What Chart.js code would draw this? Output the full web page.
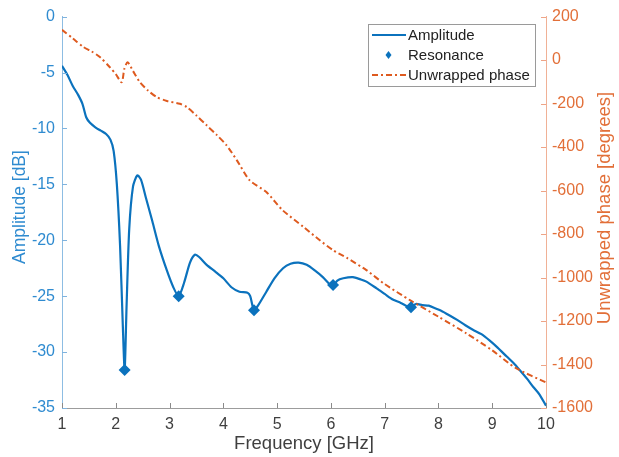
<!DOCTYPE html>
<html>
<head>
<meta charset="utf-8">
<script src="https://cdn.jsdelivr.net/npm/chart.js@4"></script>
<style>
  html, body { margin: 0; padding: 0; background: #fff; }
  #wrap { width: 619px; height: 457px; }
</style>
</head>
<body>
<div id="wrap"><canvas id="myChart" width="619" height="457"></canvas></div>
<script>
// amplitude curve [GHz, dB]
let ampFreq = [1.00,1.10,1.20,1.30,1.38,1.45,1.52,1.62,1.72,1.82,1.90,1.96,2.02,2.08,2.13,2.165,2.20,2.25,2.32,2.40,2.47,2.56,2.68,2.80,2.95,3.07,3.17,3.27,3.38,3.47,3.55,3.69,3.85,4.00,4.15,4.30,4.45,4.50,4.57,4.65,4.80,4.95,5.11,5.25,5.40,5.55,5.70,5.85,5.97,6.04,6.12,6.23,6.41,6.55,6.66,6.85,7.00,7.15,7.30,7.42,7.49,7.58,7.70,7.82,7.95,8.05,8.20,8.34,8.50,8.64,8.80,8.96,9.10,9.27,9.40,9.51,9.65,9.76,9.88,10.00];
let ampDb = [-4.4,-5.2,-6.2,-7.0,-7.8,-9.0,-9.5,-9.9,-10.2,-10.5,-11.0,-12.0,-15.0,-20.5,-27.5,-31.6,-26.0,-19.0,-15.2,-14.2,-14.6,-16.2,-18.3,-20.5,-22.7,-24.2,-25.0,-23.8,-22.0,-21.3,-21.5,-22.2,-22.8,-23.4,-24.2,-24.6,-24.7,-25.0,-26.25,-25.8,-24.6,-23.4,-22.5,-22.1,-22.0,-22.2,-22.7,-23.3,-23.9,-24.1,-23.6,-23.4,-23.3,-23.5,-23.7,-24.3,-24.8,-25.3,-25.6,-25.9,-26.0,-25.7,-25.8,-25.85,-26.1,-26.3,-26.7,-27.1,-27.6,-28.0,-28.4,-29.0,-29.6,-30.4,-31.0,-31.6,-32.4,-33.1,-33.8,-34.8];

// resonances
let resFreq = [2.165, 3.17, 4.57, 6.04, 7.49];
let resDb = [-31.6, -25.0, -26.25, -24.0, -26.0];

// unwrapped phase [GHz, degrees]
let phFreq = [1.00,1.20,1.40,1.55,1.71,1.89,2.00,2.11,2.16,2.22,2.32,2.45,2.60,2.76,2.95,3.19,3.32,3.50,3.69,3.88,4.06,4.25,4.49,4.80,5.10,5.49,5.80,6.04,6.30,6.66,7.00,7.47,8.00,8.52,9.00,9.45,10.00];
let phDeg = [139,100,60,40,13,-33,-65,-102,-40,-10,-50,-102,-140,-170,-188,-201,-216,-255,-300,-345,-392,-460,-553,-607,-690,-767,-830,-874,-910,-966,-1030,-1104,-1180,-1257,-1335,-1418,-1482];

let legendLabels = ['Amplitude', 'Resonance', 'Unwrapped phase'];

const BLUE = '#0b72bd';
const ORANGE = '#de5a1f';
const BLUE_TXT = '#2f8bd0';
const ORANGE_TXT = '#e26f38';
const GRAY_TXT = '#3f3f3f';
const FONT = '"Liberation Sans", Arial, sans-serif';

function pts(xs, ys) {
    return xs.map((x, i) => ({x: x, y: ys[i]}));
}

// inward ticks, axis titles and the boxed legend
const extras = {
    id: 'extras',
    afterDraw(chart) {
        const c = chart.ctx;
        const a = chart.chartArea;
        const sx = chart.scales.x, sl = chart.scales.y, sr = chart.scales.y2;
        c.save();
        c.lineWidth = 1;
        // ticks
        c.strokeStyle = '#8a8a8a';
        sx.ticks.forEach(t => {
            const px = Math.round(sx.getPixelForValue(t.value)) + 0.5;
            c.beginPath(); c.moveTo(px, a.bottom); c.lineTo(px, a.bottom - 5); c.stroke();
        });
        c.strokeStyle = '#7fb3de';
        sl.ticks.forEach(t => {
            const py = Math.round(sl.getPixelForValue(t.value)) + 0.5;
            c.beginPath(); c.moveTo(a.left, py); c.lineTo(a.left + 5, py); c.stroke();
        });
        c.strokeStyle = '#eea487';
        sr.ticks.forEach(t => {
            const py = Math.round(sr.getPixelForValue(t.value)) + 0.5;
            c.beginPath(); c.moveTo(a.right, py); c.lineTo(a.right - 5, py); c.stroke();
        });

        // titles
        c.textAlign = 'center';
        c.textBaseline = 'middle';
        c.font = '18.5px ' + FONT;
        c.fillStyle = GRAY_TXT;
        c.fillText('Frequency [GHz]', (a.left + a.right) / 2, 444);
        c.save();
        c.translate(20, 207);
        c.rotate(-Math.PI / 2);
        c.font = '17.5px ' + FONT;
        c.fillStyle = BLUE_TXT;
        c.fillText('Amplitude [dB]', 0, 0);
        c.restore();
        c.save();
        c.translate(605, 208);
        c.rotate(-Math.PI / 2);
        c.font = '18.5px ' + FONT;
        c.fillStyle = ORANGE_TXT;
        c.fillText('Unwrapped phase [degrees]', 0, 0);
        c.restore();

        // legend
        const bx = 368.5, by = 24.5, bw = 167, bh = 62;
        c.fillStyle = '#fff';
        c.fillRect(bx, by, bw, bh);
        c.strokeStyle = '#9a9a9a';
        c.strokeRect(bx, by, bw, bh);
        const rows = [35, 55, 75];
        c.font = '15px ' + FONT;
        c.textAlign = 'left';
        c.fillStyle = '#222';
        legendLabels.forEach((lab, i) => c.fillText(lab, 408, rows[i] + 1));
        c.lineWidth = 2;
        c.strokeStyle = BLUE;
        c.beginPath(); c.moveTo(372, rows[0]); c.lineTo(406, rows[0]); c.stroke();
        c.fillStyle = BLUE;
        c.beginPath();
        c.moveTo(388.5, rows[1] - 4); c.lineTo(391.5, rows[1]); c.lineTo(388.5, rows[1] + 4); c.lineTo(385.5, rows[1]);
        c.closePath(); c.fill();
        c.strokeStyle = ORANGE;
        c.setLineDash([6, 3, 2, 3]);
        c.beginPath(); c.moveTo(372, rows[2]); c.lineTo(406, rows[2]); c.stroke();
        c.restore();
    }
};

var ctx = document.getElementById('myChart').getContext('2d');
var myChart = new Chart(ctx, {
    type: 'line',
    data: {
        datasets: [{
            label: legendLabels[0],
            data: pts(ampFreq, ampDb),
            yAxisID: 'y',
            borderColor: BLUE,
            borderWidth: 2.2,
            pointRadius: 0,
            tension: 0.25,
            order: 3
        }, {
            label: legendLabels[1],
            data: pts(resFreq, resDb),
            yAxisID: 'y',
            showLine: false,
            pointStyle: 'rectRot',
            pointRadius: 6,
            backgroundColor: BLUE,
            borderColor: BLUE,
            borderWidth: 0,
            order: 1
        }, {
            label: legendLabels[2],
            data: pts(phFreq, phDeg),
            yAxisID: 'y2',
            borderColor: ORANGE,
            borderWidth: 2,
            borderDash: [6, 3, 2, 3],
            pointRadius: 0,
            tension: 0.25,
            order: 2
        }]
    },
    options: {
        responsive: false,
        animation: false,
        devicePixelRatio: 1,
        layout: { padding: { top: 16, left: 0, right: 0, bottom: 0 } },
        plugins: {
            legend: { display: false },
            tooltip: { enabled: false }
        },
        scales: {
            x: {
                type: 'linear',
                min: 1, max: 10,
                afterFit: s => { s.height = 49; },
                grid: { display: false, drawTicks: false },
                border: { display: true, color: '#9c9c9c', width: 1 },
                ticks: {
                    stepSize: 1,
                    padding: 7,
                    color: GRAY_TXT,
                    font: { family: FONT, size: 16 },
                    callback: v => String(v)
                }
            },
            y: {
                position: 'left',
                min: -35, max: 0,
                afterFit: s => { s.width = 62; },
                grid: { display: false, drawTicks: false },
                border: { display: true, color: '#8dbde3', width: 1 },
                ticks: {
                    stepSize: 5,
                    padding: 7,
                    color: BLUE_TXT,
                    font: { family: FONT, size: 16 },
                    callback: v => String(v)
                }
            },
            y2: {
                position: 'right',
                min: -1600, max: 200,
                afterFit: s => { s.width = 73; },
                grid: { display: false, drawTicks: false },
                border: { display: true, color: '#f0b196', width: 1 },
                ticks: {
                    stepSize: 200,
                    padding: 6,
                    color: ORANGE_TXT,
                    font: { family: FONT, size: 16 },
                    callback: v => String(v)
                }
            }
        }
    },
    plugins: [extras]
});
</script>
</body>
</html>
